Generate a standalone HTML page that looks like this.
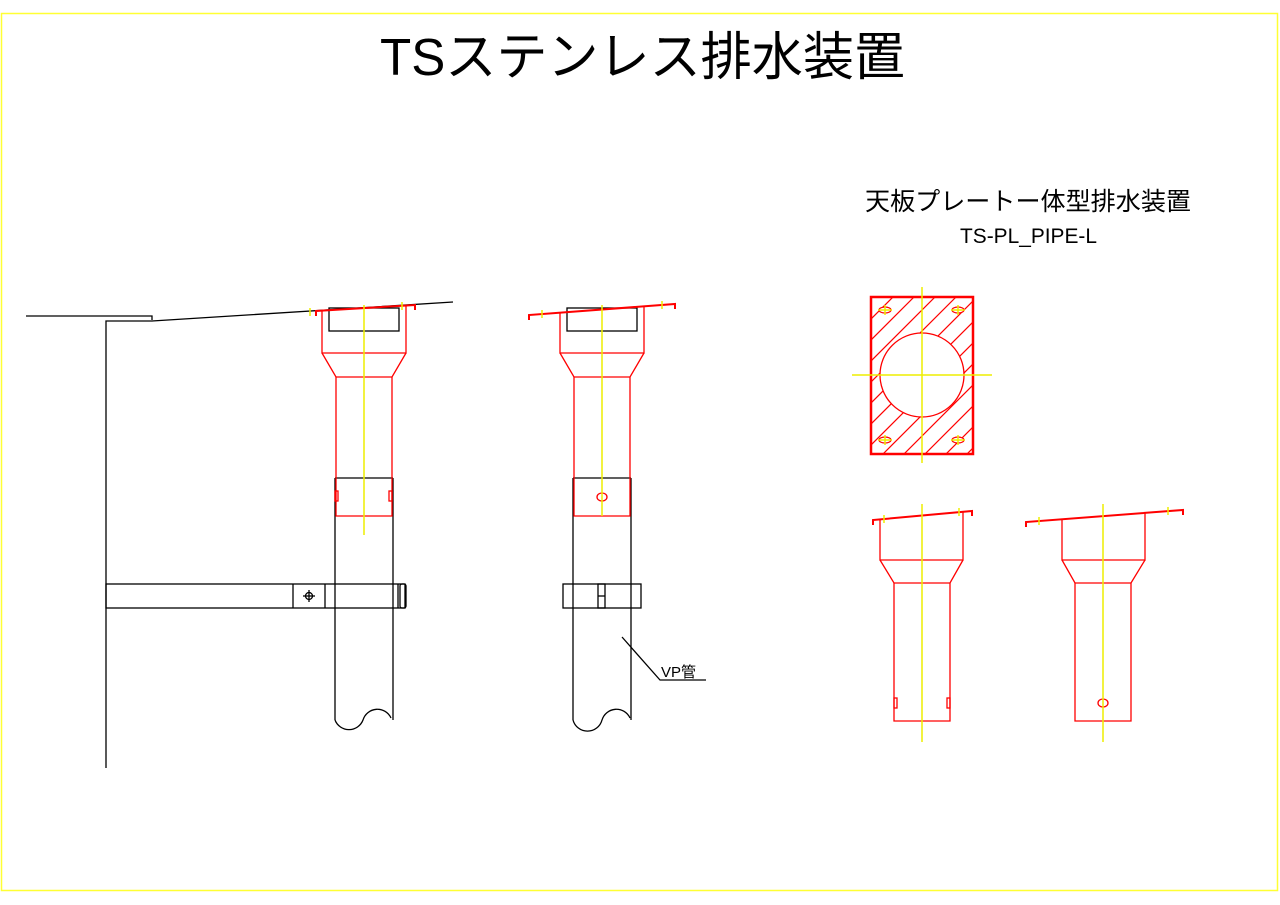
<!DOCTYPE html>
<html><head><meta charset="utf-8"><style>html,body{margin:0;padding:0;background:#fff}svg{display:block}</style></head>
<body>
<svg width="1280" height="905" viewBox="0 0 1280 905" xmlns="http://www.w3.org/2000/svg" font-family="'Liberation Sans','Noto Sans CJK JP',sans-serif">
<rect x="1.5" y="13.5" width="1276" height="877" fill="none" stroke="#ffff33" stroke-width="1.5"/>
<text x="380" y="75" font-size="52" textLength="525" lengthAdjust="spacingAndGlyphs">TSステンレス排水装置</text>
<text x="865" y="210" font-size="25" textLength="326" lengthAdjust="spacingAndGlyphs">天板プレートー体型排水装置</text>
<text x="960" y="243" font-size="21" font-family="'Liberation Sans',sans-serif" textLength="137" lengthAdjust="spacingAndGlyphs">TS-PL_PIPE-L</text>

<!-- LEFT -->
<g fill="none" stroke="#000" stroke-width="1.3">
<polyline points="26,316 152,316 152,320"/>
<polyline points="106,768 106,321 152,321 453,302"/>
<rect x="329" y="308" width="70" height="23"/>
<polyline points="335,478 393,478"/>
<line x1="335" y1="478" x2="335" y2="720"/>
<line x1="393" y1="478" x2="393" y2="720"/>
<path d="M335,720 A15,15 0 0 0 363,720 A15,15 0 0 1 391,718"/>
<rect x="106" y="584" width="299" height="24"/>
<line x1="293" y1="584" x2="293" y2="608"/>
<line x1="325" y1="584" x2="325" y2="608"/>
<line x1="398" y1="584" x2="398" y2="608"/>
<rect x="400" y="584" width="6" height="24" rx="2"/>
<circle cx="309" cy="596" r="3.5"/>
<line x1="303" y1="596" x2="315" y2="596"/><line x1="309" y1="590" x2="309" y2="602"/>
</g>
<g fill="none" stroke="#f00" stroke-width="1.3">
<polyline points="316,316 316,311 415,305 415,310" stroke-width="2"/>
<polyline points="322,310 322,353 406,353 406,306"/>
<polyline points="322,353 336,377 392,377 406,353"/>
<polyline points="336,377 336,516 392,516 392,377"/>
<rect x="335" y="491" width="3" height="10"/><rect x="389" y="491" width="3" height="10"/>
</g>
<line x1="364" y1="305" x2="364" y2="535" stroke="#ee0" stroke-width="1.5"/>

<!-- MIDDLE -->
<g fill="none" stroke="#000" stroke-width="1.3">
<rect x="567" y="308" width="70" height="23"/>
<line x1="573" y1="478" x2="631" y2="478"/>
<line x1="573" y1="478" x2="573" y2="720"/>
<line x1="631" y1="478" x2="631" y2="720"/>
<path d="M573,720 A15,15 0 0 0 602,720 A15,15 0 0 1 630,718"/>
<rect x="563" y="584" width="78" height="24"/>
<rect x="598" y="584" width="7" height="24"/>
<line x1="598" y1="596" x2="605" y2="596"/>
<polyline points="622,637 660,680 706,680"/>
</g>
<text x="661" y="677" font-size="15">VP管</text>
<g fill="none" stroke="#f00" stroke-width="1.3">
<polyline points="529,320 529,315 675,304 675,309" stroke-width="2"/>
<polyline points="560,312 560,353 644,353 644,306"/>
<polyline points="560,353 574,377 630,377 644,353"/>
<polyline points="574,377 574,516 630,516 630,377"/>
<ellipse cx="602" cy="497" rx="5" ry="4"/>
</g>
<line x1="602" y1="305" x2="602" y2="516" stroke="#ee0" stroke-width="1.5"/>

<!-- TOP VIEW -->
<defs><clipPath id="c"><rect x="871" y="297" width="102" height="157"/></clipPath></defs>
<g clip-path="url(#c)" stroke="#f00" stroke-width="1.2">
<path d="M850,340 l60,-60 M850,361 l90,-90 M850,382 l120,-120 M850,403 l150,-150 M850,424 l150,-150 M850,445 l150,-150 M850,466 l150,-150 M871,466 l150,-150 M892,466 l150,-150 M913,466 l150,-150 M934,466 l150,-150 M955,466 l150,-150"/>
</g>
<circle cx="922" cy="375" r="42" fill="#fff" stroke="#f00" stroke-width="1.3"/>
<rect x="871" y="297" width="102" height="157" fill="none" stroke="#f00" stroke-width="2.5"/>
<g fill="#fff" stroke="#f00" stroke-width="1.2">
<ellipse cx="885" cy="310" rx="6" ry="3"/><ellipse cx="958" cy="310" rx="6" ry="3"/>
<ellipse cx="885" cy="440" rx="6" ry="3"/><ellipse cx="958" cy="440" rx="6" ry="3"/>
</g>
<g stroke="#ee0" stroke-width="1.5">
<line x1="922" y1="287" x2="922" y2="463"/><line x1="852" y1="375" x2="992" y2="375"/>
<path d="M878,310 h14 M885,305 v10 M951,310 h14 M958,305 v10 M878,440 h14 M885,435 v10 M951,440 h14 M958,435 v10"/>
</g>

<!-- BOTTOM LEFT SIDE -->
<g fill="none" stroke="#f00" stroke-width="1.3">
<polyline points="873,525 873,520 972,511 972,516" stroke-width="2"/>
<polyline points="880,520 880,560 963,560 963,512"/>
<polyline points="880,560 894,583 950,583 963,560"/>
<polyline points="894,583 894,721 950,721 950,583"/>
<rect x="894" y="698" width="3" height="10"/><rect x="947" y="698" width="3" height="10"/>
</g>
<line x1="922" y1="504" x2="922" y2="742" stroke="#ee0" stroke-width="1.5"/>

<!-- BOTTOM RIGHT SIDE -->
<g fill="none" stroke="#f00" stroke-width="1.3">
<polyline points="1026,527 1026,522 1183,510 1183,515" stroke-width="2"/>
<polyline points="1062,519 1062,560 1145,560 1145,513"/>
<polyline points="1062,560 1075,583 1131,583 1145,560"/>
<polyline points="1075,583 1075,721 1131,721 1131,583"/>
<ellipse cx="1103" cy="703" rx="5" ry="4"/>
</g>
<line x1="1103" y1="504" x2="1103" y2="742" stroke="#ee0" stroke-width="1.5"/>
<g stroke="#ee0" stroke-width="1.5">
<line x1="310" y1="308" x2="310" y2="316"/><line x1="402" y1="302" x2="402" y2="310"/>
<line x1="542" y1="310" x2="542" y2="318"/><line x1="662" y1="301" x2="662" y2="309"/>
<line x1="884" y1="515" x2="884" y2="523"/><line x1="959" y1="508" x2="959" y2="516"/>
<line x1="1039" y1="517" x2="1039" y2="525"/><line x1="1168" y1="507" x2="1168" y2="515"/>
</g>
</svg>
</body></html>
